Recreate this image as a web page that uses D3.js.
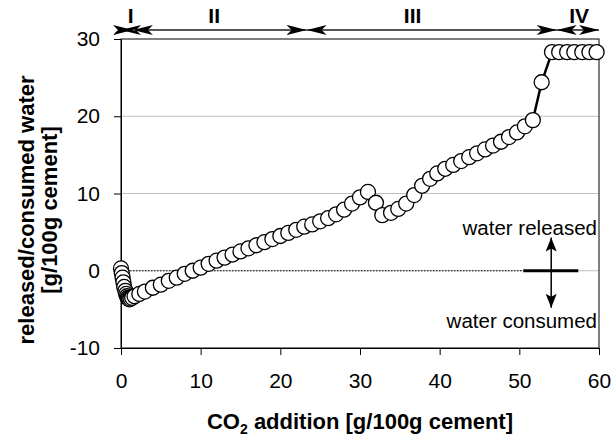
<!DOCTYPE html>
<html>
<head>
<meta charset="utf-8">
<script src="https://cdn.jsdelivr.net/npm/d3@7"></script>
<style>
  body { margin: 0; background: #fff; }
  svg text { font-family: "Liberation Sans", Arial, sans-serif; fill: #000; }
</style>
</head>
<body>
<svg id="chart" width="611" height="439"></svg>
<script>
// CO2 addition [g/100g cement]
const co2 = [0.0, 0.1, 0.2, 0.3, 0.4, 0.55, 0.65, 0.75, 0.85, 0.95, 1.05, 1.2, 1.4, 1.7,
    2.3, 3, 4, 5, 6, 7, 8, 9, 10, 11, 12, 13, 14, 15, 16, 17, 18, 19, 20,
    21, 22, 23, 24, 25, 26, 27, 28, 29, 30, 31,
    32, 32.8, 33.9, 34.8, 35.8, 36.8, 37.8, 38.8, 39.7, 40.7, 41.7, 42.7,
    43.7, 44.7, 45.7, 46.7, 47.7, 48.7, 49.7, 50.7, 51.7, 52.8,
    54.1, 55.0, 56.0, 56.9, 57.9, 58.8, 59.7];
// released/consumed water [g/100g cement]
const water = [0.3, -0.3, -0.9, -1.5, -2.1, -2.6, -3.0, -3.3, -3.5, -3.6, -3.7, -3.6, -3.5, -3.3,
    -3.0, -2.7, -2.2, -1.8, -1.3, -0.9, -0.4, 0.0, 0.4, 0.9, 1.3, 1.7, 2.1, 2.5, 2.9, 3.3, 3.7, 4.1, 4.5,
    4.9, 5.3, 5.7, 6.0, 6.4, 6.8, 7.3, 7.9, 8.7, 9.5, 10.2,
    8.8, 7.2, 7.5, 8.0, 8.7, 9.8, 11.0, 11.9, 12.6, 13.2, 13.7, 14.2,
    14.7, 15.2, 15.7, 16.2, 16.7, 17.3, 17.9, 18.7, 19.5, 24.4,
    28.3, 28.3, 28.3, 28.3, 28.3, 28.3, 28.3];

const xTicks = [0, 10, 20, 30, 40, 50, 60];
const yTicks = [-10, 0, 10, 20, 30];
const gridValues = [0, 10, 20];

// phase ranges along the top
const phaseNames = ['I', 'II', 'III', 'IV'];
const phaseStart = [0, 1.5, 23.3, 54.7];
const phaseEnd = [1.5, 23.3, 54.7, 60];
const phaseLabelX = [1.2, 11.7, 36.6, 57.5];

const data = co2.map((c, i) => ({ x: c, y: water[i] }));

const svg = d3.select('#chart');
const plotLeft = 121, plotRight = 599, plotTop = 39, plotBottom = 348;

const x = d3.scaleLinear().domain([0, 60]).range([plotLeft, plotRight]);
const y = d3.scaleLinear().domain([-10, 30]).range([plotBottom, plotTop]);

// arrow heads (stealth style)
const defs = svg.append('defs');
defs.append('marker')
    .attr('id', 'head')
    .attr('markerUnits', 'userSpaceOnUse')
    .attr('viewBox', '0 -6 20 12')
    .attr('refX', 20).attr('refY', 0)
    .attr('markerWidth', 20).attr('markerHeight', 12)
    .attr('orient', 'auto-start-reverse')
    .append('path')
    .attr('d', 'M0,-5 L20,0 L0,5 L5,0 Z')
    .attr('fill', '#000');
defs.append('marker')
    .attr('id', 'vhead')
    .attr('markerUnits', 'userSpaceOnUse')
    .attr('viewBox', '0 -6 14 12')
    .attr('refX', 14).attr('refY', 0)
    .attr('markerWidth', 14).attr('markerHeight', 12)
    .attr('orient', 'auto-start-reverse')
    .append('path')
    .attr('d', 'M0,-5.5 L14,0 L0,5.5 L3,0 Z')
    .attr('fill', '#000');

// gridlines
svg.append('g').selectAll('line')
    .data(gridValues)
    .enter().append('line')
    .attr('x1', plotLeft).attr('x2', plotRight)
    .attr('y1', d => y(d)).attr('y2', d => y(d))
    .attr('stroke', '#c0c0c0').attr('stroke-width', 1);

// dotted zero line up to legend bar
svg.append('line')
    .attr('x1', x(0)).attr('x2', x(50.5))
    .attr('y1', y(0)).attr('y2', y(0))
    .attr('stroke', '#000').attr('stroke-width', 1)
    .attr('stroke-dasharray', '1.5,1.5');

// frame
svg.append('rect')
    .attr('x', plotLeft).attr('y', plotTop)
    .attr('width', plotRight - plotLeft).attr('height', plotBottom - plotTop)
    .attr('fill', 'none').attr('stroke', '#000').attr('stroke-width', 1);

// axes
const xAxis = svg.append('g')
    .attr('transform', `translate(0,${plotBottom})`)
    .call(d3.axisBottom(x).tickValues(xTicks).tickSize(7).tickPadding(18));
const yAxis = svg.append('g')
    .attr('transform', `translate(${plotLeft},0)`)
    .call(d3.axisLeft(y).tickValues(yTicks).tickSize(7).tickPadding(14).tickFormat(d3.format('d')));
[xAxis, yAxis].forEach(a => {
    a.select('.domain').attr('stroke', '#000');
    a.selectAll('.tick line').attr('stroke', '#000');
    a.selectAll('.tick text')
        .attr('font-size', 21)
        .attr('font-family', '"Liberation Sans", Arial, sans-serif');
});
yAxis.selectAll('.tick text').text(d => d < 0 ? '-' + Math.abs(d) : d);

// legend marker: released / consumed
svg.append('line')
    .attr('x1', x(50.5)).attr('x2', x(57.4))
    .attr('y1', y(0)).attr('y2', y(0))
    .attr('stroke', '#000').attr('stroke-width', 3);
svg.append('line')
    .attr('x1', x(54)).attr('x2', x(54))
    .attr('y1', y(4.3)).attr('y2', y(-4.8))
    .attr('stroke', '#000').attr('stroke-width', 1.5)
    .attr('marker-start', 'url(#vhead)')
    .attr('marker-end', 'url(#vhead)');
svg.append('text')
    .attr('x', 597).attr('y', 235)
    .attr('text-anchor', 'end')
    .attr('font-size', 20.5)
    .text('water released');
svg.append('text')
    .attr('x', 597).attr('y', 328)
    .attr('text-anchor', 'end')
    .attr('font-size', 20.5)
    .text('water consumed');

// data line and points
svg.append('path')
    .datum(data)
    .attr('fill', 'none')
    .attr('stroke', '#000')
    .attr('stroke-width', 2.5)
    .attr('d', d3.line().x(d => x(d.x)).y(d => y(d.y)));

svg.append('g').selectAll('circle')
    .data(data)
    .enter().append('circle')
    .attr('cx', d => x(d.x))
    .attr('cy', d => y(d.y))
    .attr('r', 7.5)
    .attr('fill', '#fff')
    .attr('stroke', '#000')
    .attr('stroke-width', 1.3);

// phases along the top
const phases = phaseNames.map((n, i) => ({ name: n, a: phaseStart[i], b: phaseEnd[i], lx: phaseLabelX[i] }));
svg.append('g').selectAll('line')
    .data(phases)
    .enter().append('line')
    .attr('x1', d => x(d.a)).attr('x2', d => x(d.b))
    .attr('y1', 30).attr('y2', 30)
    .attr('stroke', '#555').attr('stroke-width', 2)
    .attr('marker-start', 'url(#head)')
    .attr('marker-end', 'url(#head)');
svg.append('g').selectAll('text')
    .data(phases)
    .enter().append('text')
    .attr('x', d => x(d.lx))
    .attr('y', 23)
    .attr('text-anchor', 'middle')
    .attr('font-size', 21)
    .attr('font-weight', 'bold')
    .text(d => d.name);

// axis titles
const xt = svg.append('text')
    .attr('x', 360).attr('y', 429)
    .attr('text-anchor', 'middle')
    .attr('font-size', 22)
    .attr('font-weight', 'bold');
xt.append('tspan').text('CO');
xt.append('tspan').attr('font-size', 14).attr('dy', 5).text('2');
xt.append('tspan').attr('dy', -5).text(' addition [g/100g cement]');

const yt = svg.append('text')
    .attr('transform', 'translate(34,210) rotate(-90)')
    .attr('text-anchor', 'middle')
    .attr('font-size', 22)
    .attr('font-weight', 'bold');
yt.append('tspan').attr('x', 0).attr('dy', 0).text('released/consumed water');
yt.append('tspan').attr('x', 0).attr('dy', 23).text('[g/100g cement]');
</script>
</body>
</html>
